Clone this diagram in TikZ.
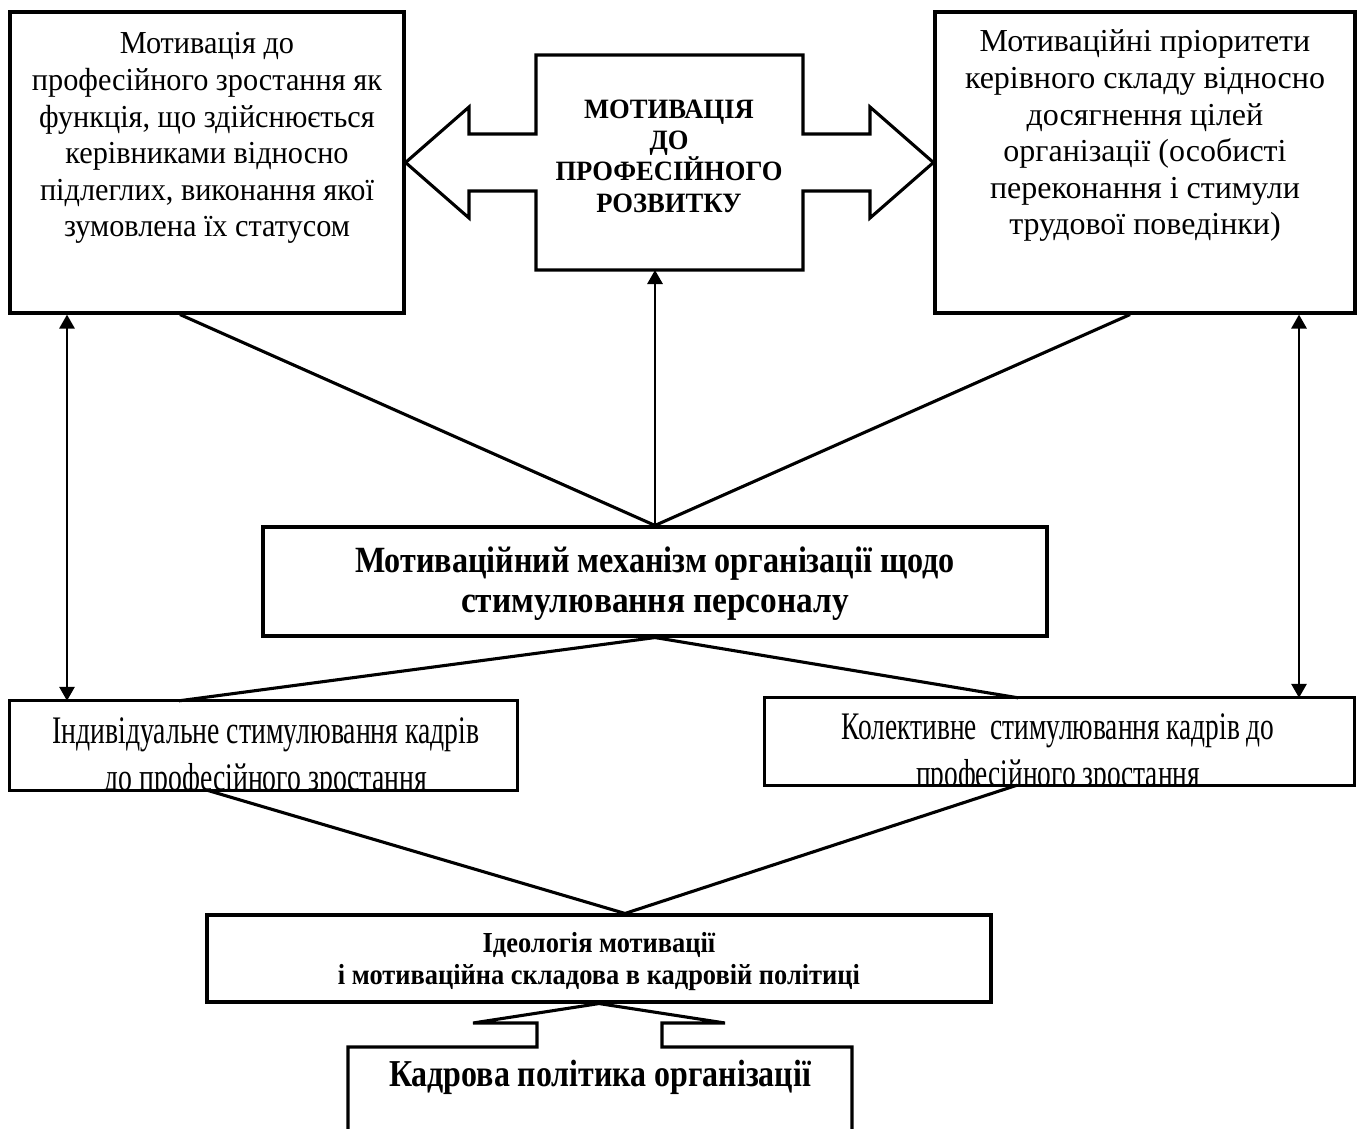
\documentclass[tikz,border=0pt]{standalone}
\usepackage{fontspec}
\setmainfont{Liberation Serif}
\usepackage{graphicx}
\usetikzlibrary{arrows.meta}
\newcommand\cstack[2]{\vtop{\baselineskip=#1\lineskiplimit=-100pt\lineskip=0pt\halign{\hfil##\hfil\cr#2\crcr}}}
\newcommand\fitw[2]{\resizebox{#1}{\height}{#2}}
\begin{document}
\begin{tikzpicture}[x=1pt,y=-1pt,line join=miter,
  box/.style={draw,line width=3.1pt,rectangle,inner sep=0pt},
  area/.style={rectangle,inner sep=0pt},
  conn/.style={line width=3.1pt},
  arr/.style={line width=2.9pt,-{Triangle[width=15pt,length=14pt]}},
  darr/.style={line width=2.9pt,{Triangle[width=15pt,length=14pt]}-{Triangle[width=15pt,length=14pt]}},
  txt/.style={inner sep=0pt,anchor=base}]
\useasboundingbox (0,0) rectangle (1362,1129);
% boxes
\node[box,minimum width=394pt,minimum height=301pt] (tl) at (207,162.5) {};
\node[box,minimum width=420pt,minimum height=301pt] (tr) at (1145,162.5) {};
\node[box,minimum width=784pt,minimum height=109pt] (mid) at (655,581.5) {};
\node[area,minimum width=507pt,minimum height=89pt] (lb) at (263.5,745.5) {};
\node[area,minimum width=589pt,minimum height=87pt] (rb) at (1059.5,741.5) {};
\node[box,minimum width=784pt,minimum height=87pt] (ideo) at (599,958.5) {};
% central double arrow shape
\draw[conn] (536,55) -- (803,55) -- (803,134) -- (870,134) -- (870,107) -- (tr.west) -- (870,218) -- (870,191) -- (803,191) -- (803,270) -- (536,270) -- (536,191) -- (469,191) -- (469,218) -- (tl.east) -- (469,107) -- (469,134) -- (536,134) -- cycle;
\coordinate (ctrS) at (655,270);
% bottom arrow shape
\draw[conn] (348,1140) -- (348,1047) -- (537,1047) -- (537,1023) -- (473,1023) -- (ideo.south) -- (725,1023) -- (662,1023) -- (662,1047) -- (852,1047) -- (852,1140);
% connectors
\draw[conn] ([xshift=-27pt]tl.south) -- (mid.north);
\draw[conn] ([xshift=-15pt]tr.south) -- (mid.north);
\draw[arr] (mid.north) -- (ctrS);
\draw[darr] ([xshift=-140pt]tl.south) -- ([xshift=-196.5pt]lb.north);
\draw[darr] ([xshift=154pt]tr.south) -- ([xshift=239.5pt]rb.north);
\draw[conn] (mid.south) -- ([xshift=-84.5pt]lb.north);
\draw[conn] (mid.south) -- ([xshift=-41.5pt]rb.north);
\coordinate (conv) at ([xshift=26pt]ideo.north);
\draw[conn] ([xshift=-56.5pt]lb.south) -- (conv);
\draw[conn] ([xshift=-42.5pt]rb.south) -- (conv);
% texts
\node[txt] (tlt) at (207,54) {\fontsize{32}{36.6}\selectfont\fitw{350pt}{\cstack{36.6pt}{Мотивація до\cr професійного зростання як\cr функція, що здійснюється\cr керівниками відносно\cr підлеглих, виконання якої\cr зумовлена їх статусом}}};
\node[txt] (trt) at (1145,52) {\fontsize{32}{36.6}\selectfont\fitw{360pt}{\cstack{36.6pt}{Мотиваційні пріоритети\cr керівного складу відносно\cr досягнення цілей\cr організації (особисті\cr переконання і стимули\cr трудової поведінки)}}};
\node[txt] (ct) at (669,119) {\fontsize{28}{31}\selectfont\bfseries\fitw{227pt}{\cstack{31pt}{МОТИВАЦІЯ\cr ДО\cr ПРОФЕСІЙНОГО\cr РОЗВИТКУ}}};
\node[txt] (midt) at (655,572) {\fontsize{37}{40}\selectfont\bfseries\cstack{40pt}{\fitw{600pt}{Мотиваційний механізм організації щодо}\cr \fitw{388pt}{стимулювання персоналу}}};
\begin{scope}
\clip (lb.north west) rectangle (lb.south east);
\node[txt] (lbt) at (266,743) {\fontsize{39}{47}\selectfont\fitw{427pt}{\cstack{47pt}{Індивідуальне стимулювання кадрів\cr до професійного зростання}}};
\end{scope}
\begin{scope}
\clip (rb.north west) rectangle (rb.south east);
\node[txt] (rbt) at (1058,739) {\fontsize{39}{47}\selectfont\fitw{433pt}{\cstack{47pt}{Колективне~ стимулювання кадрів до\cr професійного зростання}}};
\end{scope}
\node[txt] (ideot) at (599,952) {\fontsize{29}{32}\selectfont\bfseries\fitw{522pt}{\cstack{32pt}{Ідеологія мотивації\cr і мотиваційна складова в кадровій політиці}}};
\node[txt] (kt) at (600,1086) {\fontsize{38}{40}\selectfont\bfseries\fitw{422pt}{Кадрова політика організації}};
% borders of the two clipped boxes
\draw[line width=3.1pt] (lb.south west) rectangle (lb.north east);
\draw[line width=3.1pt] (rb.south west) rectangle (rb.north east);
\end{tikzpicture}
\end{document}
